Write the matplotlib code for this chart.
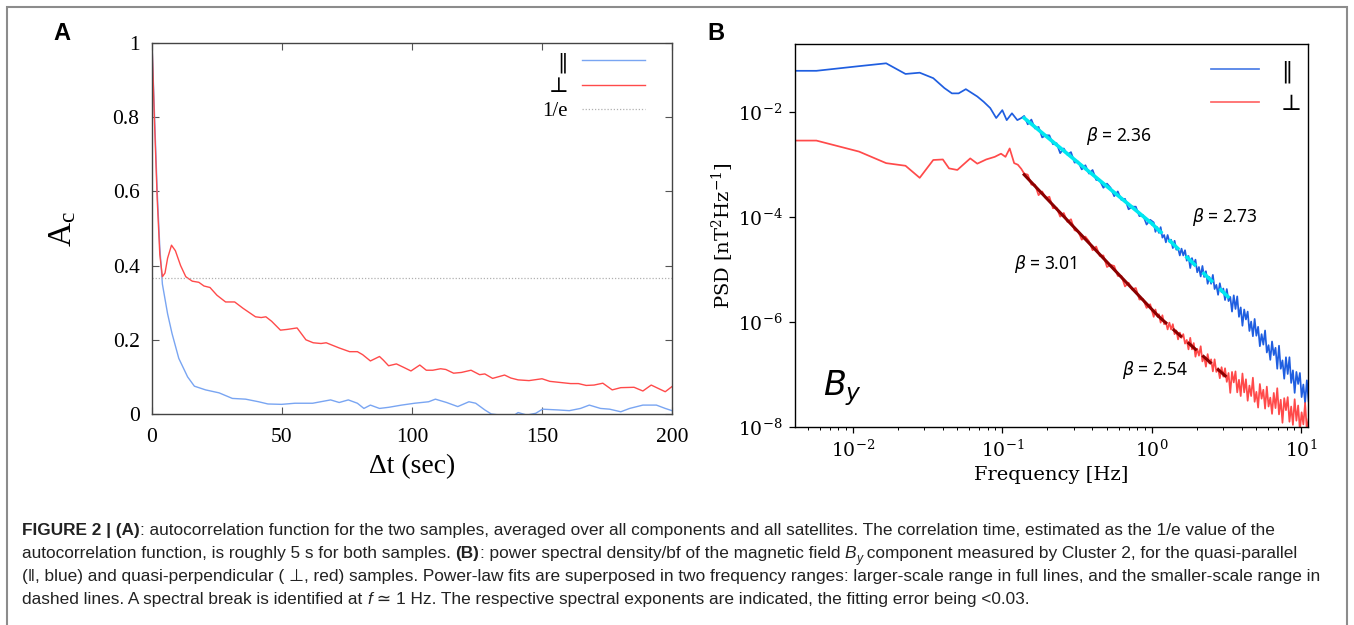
import numpy as np
import matplotlib
matplotlib.use('Agg')
import matplotlib.pyplot as plt
from matplotlib import font_manager
from matplotlib.patches import Rectangle

# ---- panel A : autocorrelation ----
t_par = [0, 1, 2, 3, 4, 6, 7.7, 10.3, 13.7, 16.3, 20.6, 25.8, 30.9, 36, 41, 44.6, 49.8,
         55, 61.8, 68.7, 72, 75.5, 79, 81.5, 84, 87.5, 91, 96, 101, 106.4, 109, 113.3,
         117.6, 121.9, 124.5, 128, 130.5, 134, 139, 140.8, 144.2, 147.6, 150.2, 156,
         160.5, 164.8, 168.2, 172.5, 176, 180.3, 183.7, 188.8, 194, 197.4, 200]
ac_par = [1.0, 0.80, 0.60, 0.45, 0.35, 0.27, 0.217, 0.15, 0.10, 0.075, 0.065, 0.057, 0.042,
          0.04, 0.033, 0.027, 0.026, 0.029, 0.029, 0.038, 0.031, 0.038, 0.029, 0.015,
          0.024, 0.015, 0.018, 0.024, 0.029, 0.033, 0.04, 0.031, 0.02, 0.033, 0.029,
          0.011, 0.0, -0.003, -0.005, 0.004, -0.003, 0.002, 0.013, 0.011, 0.009, 0.015,
          0.024, 0.015, 0.013, 0.006, 0.015, 0.024, 0.024, 0.015, 0.009]

t_perp = [0, 1, 2, 3, 4, 5, 6, 7.5, 9, 11, 13, 15.5, 18, 20, 22.3, 25, 28.3, 31.8, 35,
          39.8, 42, 43.8, 46, 49.4, 52, 55.8, 59.2, 62, 65, 67, 72, 76, 79, 81, 84, 87.5,
          89, 91, 94, 97, 99.6, 103, 105.5, 108, 111, 113, 116, 119, 122.7, 126, 128,
          131, 135.6, 138, 140.8, 145, 148, 150, 153, 157, 161, 164, 167, 170, 173.4,
          177, 180.3, 185.4, 188.8, 192, 197.4, 200]
ac_perp = [1.0, 0.78, 0.58, 0.43, 0.37, 0.38, 0.42, 0.455, 0.44, 0.40, 0.37, 0.358, 0.355,
           0.345, 0.341, 0.32, 0.302, 0.302, 0.285, 0.262, 0.26, 0.262, 0.25, 0.226,
           0.228, 0.232, 0.20, 0.192, 0.19, 0.192, 0.178, 0.168, 0.168, 0.16, 0.143,
           0.155, 0.145, 0.13, 0.135, 0.125, 0.116, 0.132, 0.118, 0.118, 0.122, 0.12,
           0.11, 0.112, 0.118, 0.106, 0.108, 0.096, 0.105, 0.097, 0.092, 0.09, 0.093,
           0.095, 0.088, 0.085, 0.082, 0.082, 0.077, 0.078, 0.083, 0.065, 0.071, 0.072,
           0.062, 0.078, 0.06, 0.074]
inv_e = 1 / np.e

# ---- panel B : PSD of By (log10 values) ----
f_lo_par = [0.0041, 0.0057, 0.0111, 0.0167, 0.0225, 0.028, 0.0345, 0.041, 0.046, 0.051,
            0.057, 0.068, 0.075, 0.083, 0.091, 0.100, 0.107, 0.116, 0.126, 0.134]
lg_lo_par = [-1.21, -1.21, -1.12, -1.067, -1.27, -1.246, -1.35, -1.54, -1.64, -1.64,
             -1.56, -1.70, -1.80, -1.92, -2.11, -1.96, -2.15, -2.02, -2.15, -2.11]
f_lo_perp = [0.0041, 0.0057, 0.011, 0.0167, 0.0225, 0.028, 0.0345, 0.040, 0.044, 0.050,
             0.061, 0.068, 0.078, 0.089, 0.098, 0.105, 0.112, 0.120, 0.127, 0.134]
lg_lo_perp = [-2.54, -2.54, -2.75, -2.97, -3.02, -3.25, -2.91, -2.90, -3.07, -3.10,
              -2.88, -2.98, -2.90, -2.85, -2.79, -2.85, -2.69, -2.97, -3.00, -3.08]

# bins between 0.14 and ~1 Hz
f_mid = np.geomspace(0.14, 0.976, 36)
lg_mid_par = [-2.07, -2.23, -2.14, -2.31, -2.28, -2.48, -2.44, -2.44, -2.61, -2.59,
              -2.78, -2.69, -2.81, -2.76, -2.96, -2.94, -3.09, -3.01, -3.17, -3.10,
              -3.29, -3.30, -3.44, -3.36, -3.44, -3.60, -3.51, -3.67, -3.65, -3.85,
              -3.80, -3.80, -3.98, -3.96, -4.14, -4.05]
lg_mid_perp = [-3.17, -3.19, -3.38, -3.38, -3.58, -3.51, -3.64, -3.61, -3.83, -3.82,
               -3.99, -3.92, -4.09, -4.04, -4.25, -4.27, -4.43, -4.37, -4.46, -4.63,
               -4.56, -4.74, -4.73, -4.95, -4.91, -4.93, -5.12, -5.12, -5.32, -5.25,
               -5.38, -5.35, -5.57, -5.56, -5.73, -5.66]

# bins between ~1 and 11.2 Hz
f_top = np.geomspace(1.03, 11.2, 90)
lg_top_par = [-4.10, -4.28, -4.19, -4.30, -4.19, -4.39, -4.34, -4.48, -4.34, -4.47,
              -4.43, -4.59, -4.45, -4.62, -4.59, -4.73, -4.60, -4.73, -4.63, -4.83,
              -4.74, -4.97, -4.78, -4.91, -4.81, -5.05, -4.95, -5.13, -4.93, -5.14,
              -5.03, -5.27, -5.14, -5.27, -5.10, -5.37, -5.29, -5.48, -5.26, -5.43,
              -5.36, -5.58, -5.37, -5.60, -5.52, -5.80, -5.49, -5.75, -5.51, -5.90,
              -5.72, -6.07, -5.76, -5.95, -5.80, -6.17, -5.99, -6.27, -5.94, -6.26,
              -6.09, -6.46, -6.23, -6.43, -6.16, -6.58, -6.44, -6.72, -6.37, -6.63,
              -6.49, -6.89, -6.45, -6.89, -6.73, -7.08, -6.67, -6.99, -6.67, -7.16,
              -6.92, -7.35, -6.95, -7.18, -6.97, -7.43, -7.19, -7.54, -7.11, -7.51]
lg_top_perp = [-5.90, -5.76, -5.89, -5.85, -6.01, -5.87, -6.04, -6.00, -6.14, -6.01,
               -6.14, -6.04, -6.23, -6.16, -6.33, -6.20, -6.30, -6.23, -6.41, -6.34,
               -6.52, -6.30, -6.52, -6.40, -6.66, -6.51, -6.64, -6.46, -6.75, -6.66,
               -6.85, -6.61, -6.79, -6.71, -6.94, -6.71, -6.95, -6.88, -7.07, -6.86,
               -7.04, -6.88, -7.14, -6.97, -7.35, -6.95, -7.15, -6.94, -7.34, -7.10,
               -7.41, -6.98, -7.34, -7.09, -7.50, -7.21, -7.41, -7.06, -7.52, -7.33,
               -7.63, -7.18, -7.46, -7.29, -7.65, -7.23, -7.61, -7.44, -7.75, -7.35,
               -7.64, -7.26, -7.76, -7.48, -7.92, -7.45, -7.68, -7.43, -7.90, -7.61,
               -7.96, -7.47, -7.88, -7.59, -8.06, -7.72, -7.95, -7.54, -8.07, -7.85]

# power-law fits (end points, log10 PSD)
fit_par_full = ([0.14, 1.0], [-2.11, -4.12])
fit_par_dash = ([1.0, 3.3], [-4.12, -5.54])
fit_perp_full = ([0.14, 1.1], [-3.19, -5.88])
fit_perp_dash = ([1.1, 3.2], [-5.88, -7.06])
beta_vals = [2.36, 2.73, 3.01, 2.54]
beta_pos = [(0.60, -2.46), (3.06, -4.0), (0.193, -4.9), (1.05, -6.91)]

W, H = 1354, 625
fig = plt.figure(figsize=(W / 100, H / 100), dpi=100)

names = {f.name for f in font_manager.fontManager.ttflist}
serifA = ['Liberation Serif', 'DejaVu Serif']
serifB = ['DejaVu Serif Condensed', 'DejaVu Serif'] if 'DejaVu Serif Condensed' in names else ['DejaVu Serif']
cap_fam = ['Liberation Sans Narrow', 'DejaVu Sans'] if 'Liberation Sans Narrow' in names else ['Liberation Sans', 'DejaVu Sans']

# outer frame
fig.patches.append(Rectangle((7 / W, -0.05), 1340 / W, 1 - 7 / H + 0.05, transform=fig.transFigure,
                             fill=False, edgecolor='#8c8c8c', lw=1.5, clip_on=False))

# ---------------- panel A ----------------
axA = fig.add_axes([152 / W, 1 - 414 / H, 520 / W, 371 / H])
axA.plot(t_par, ac_par, color='#79a5f2', lw=1.0, label='‖')
axA.plot(t_perp, ac_perp, color='#ff4a4a', lw=1.0, label='⊥')
axA.axhline(inv_e, color='#b0b0b0', lw=0.9, ls=(0, (1, 1.5)), label='1/e')
axA.set_xlim(0, 200)
axA.set_ylim(0, 1)
axA.set_xticks([0, 50, 100, 150, 200])
axA.set_yticks([0, 0.2, 0.4, 0.6, 0.8, 1])
axA.set_yticklabels(['0', '0.2', '0.4', '0.6', '0.8', '1'])
axA.tick_params(direction='in', top=True, right=True, length=5, width=0.8,
                labelsize=15.5, color='#555555')
axA.tick_params(axis='y', pad=9)
axA.tick_params(axis='x', pad=10)
for lab in axA.get_xticklabels() + axA.get_yticklabels():
    lab.set_family(serifA)
for s in axA.spines.values():
    s.set_color('#444444')
    s.set_linewidth(1.0)
axA.set_xlabel('Δt (sec)', fontsize=20, family=serifA, labelpad=5)
axA.set_ylabel(r'$\mathregular{A_c}$', fontsize=24, family=serifA)
axA.yaxis.set_label_coords(-0.142, 0.5)
legA = axA.legend(loc='upper right', bbox_to_anchor=(0.948, 0.975), frameon=False,
                  markerfirst=False, handlelength=3.0, handletextpad=0.7,
                  labelspacing=0.22, borderpad=0, borderaxespad=0,
                  prop={'family': serifA, 'size': 15})
legA.get_texts()[0].set_family(['DejaVu Serif'])
legA.get_texts()[0].set_fontsize(15)

# ---------------- panel B ----------------
axB = fig.add_axes([795 / W, 1 - 427 / H, 513 / W, 383 / H])
f_par = np.concatenate([f_lo_par, f_mid, f_top])
f_perp = np.concatenate([f_lo_perp, f_mid, f_top])
psd_par = 10.0 ** np.concatenate([lg_lo_par, lg_mid_par, lg_top_par])
psd_perp = 10.0 ** np.concatenate([lg_lo_perp, lg_mid_perp, lg_top_perp])
axB.plot(f_par, psd_par, color='#1f5ee0', lw=1.25, label='‖')
axB.plot(f_perp, psd_perp, color='#ff4040', lw=1.25, alpha=0.95, label='⊥')
axB.plot(fit_par_full[0], 10.0 ** np.array(fit_par_full[1]), color='#00e8f0', lw=2.6)
axB.plot(fit_par_dash[0], 10.0 ** np.array(fit_par_dash[1]), color='#00e8f0', lw=2.6, ls=(0, (4, 2.5)))
axB.plot(fit_perp_full[0], 10.0 ** np.array(fit_perp_full[1]), color='#8b0000', lw=2.2)
axB.plot(fit_perp_dash[0], 10.0 ** np.array(fit_perp_dash[1]), color='#8b0000', lw=2.2, ls=(0, (4, 2.5)))
axB.set_xscale('log')
axB.set_yscale('log')
axB.set_xlim(0.0041, 11.1)
axB.set_ylim(1e-8, 2e-1)
axB.set_yticks([1e-8, 1e-6, 1e-4, 1e-2])
axB.yaxis.set_minor_locator(matplotlib.ticker.NullLocator())
axB.tick_params(which='major', length=4, width=0.9, labelsize=13.5, pad=5)
axB.tick_params(which='minor', length=2.2, width=0.7)
for lab in axB.get_xticklabels() + axB.get_yticklabels():
    lab.set_family(serifB)
for s in axB.spines.values():
    s.set_linewidth(1.0)
axB.set_xlabel('Frequency [Hz]', fontsize=14, family=serifB, labelpad=4)
axB.set_ylabel(r'PSD [$\mathregular{nT^2Hz^{-1}}$]', fontsize=14, family=serifB)
axB.yaxis.set_label_coords(-0.115, 0.5)
for b, (x, y) in zip(beta_vals, beta_pos):
    axB.text(x, 10.0 ** y, r'$\beta$ = %.2f' % b, fontsize=12.5, family='Noto Sans',
             ha='center', va='center')
axB.text(0.055, 0.084, r'$B_y$', transform=axB.transAxes, fontsize=24,
         ha='left', va='baseline')
legB = axB.legend(loc='upper left', bbox_to_anchor=(0.811, 0.958), frameon=False,
                  handlelength=2.15, handletextpad=1.0, labelspacing=0.45,
                  borderpad=0, borderaxespad=0, prop={'family': serifB, 'size': 16})
for h in legB.legend_handles:
    h.set_alpha(0.8)

# panel letters
fig.text(62 / W, 1 - 33 / H, 'A', fontsize=17, fontweight='bold', family='Liberation Sans',
         ha='center', va='center')
fig.text(716 / W, 1 - 33 / H, 'B', fontsize=17, fontweight='bold', family='Liberation Sans',
         ha='center', va='center')

# ---------------- caption ----------------
cap_lines = [
    [('FIGURE 2 | (A)', 'b'), (': autocorrelation function for the two samples, averaged over all components and all satellites. The correlation time, estimated as the 1/e value of the', '')],
    [('autocorrelation function, is roughly 5 s for both samples. ', ''), ('(B)', 'b'),
     (': power spectral density/bf of the magnetic field ', ''), ('B', 'i'), ('y', 'is'),
     (' component measured by Cluster 2, for the quasi-parallel', '')],
    [('(‖, blue) and quasi-perpendicular ( ⊥, red) samples. Power-law fits are superposed in two frequency ranges: larger-scale range in full lines, and the smaller-scale range in', '')],
    [('dashed lines. A spectral break is identified at ', ''), ('f', 'i'),
     (' ≃ 1 Hz. The respective spectral exponents are indicated, the fitting error being <0.03.', '')],
]
cap_base = [535, 558, 581, 604]
renderer = fig.canvas.get_renderer()


def piece_kw(style, size):
    kw = dict(family=cap_fam, fontsize=size, color='#222222')
    if 'b' in style:
        kw['fontweight'] = 'bold'
    if 'i' in style:
        kw['fontstyle'] = 'italic'
    if 's' in style:
        kw['fontsize'] = size * 0.7
    return kw


def text_width(s, kw):
    t1 = fig.text(0, 0, s + '|', **kw)
    t2 = fig.text(0, 0, '|', **kw)
    w = t1.get_window_extent(renderer).width - t2.get_window_extent(renderer).width
    t1.remove()
    t2.remove()
    return w


w12 = sum(text_width(s, piece_kw(st, 12)) for s, st in cap_lines[2])
cap_size = 12 * 1300 / w12

for pieces, yb in zip(cap_lines, cap_base):
    x = 22
    for s, st in pieces:
        kw = piece_kw(st, cap_size)
        dy = 4 if 's' in st else 0
        fig.text(x / W, 1 - (yb + dy) / H, s, ha='left', va='baseline', **kw)
        x += text_width(s, kw)

fig.savefig('out.png', dpi=100)
